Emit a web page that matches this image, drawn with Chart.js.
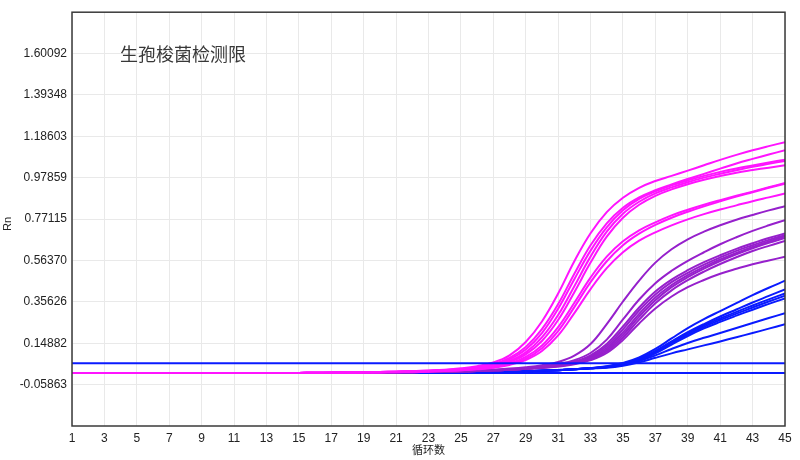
<!DOCTYPE html>
<html><head><meta charset="utf-8">
<script src="https://cdn.jsdelivr.net/npm/chart.js@4"></script>
<style>html,body{margin:0;padding:0;background:#fff}</style>
</head><body>
<canvas id="c" width="800" height="460" style="width:800px;height:460px;display:block"></canvas>
<script>
// ---------- data ----------
const cycles = [1,2,3,4,5,6,7,8,9,10,11,12,13,14,15,16,17,18,19,20,21,22,23,24,25,26,27,28,29,30,31,32,33,34,35,36,37,38,39,40,41,42,43,44,45];
const xTickValues = [1,3,5,7,9,11,13,15,17,19,21,23,25,27,29,31,33,35,37,39,41,43,45];
const yTickValues = [-0.05863,0.14882,0.35626,0.56370,0.77115,0.97859,1.18603,1.39348,1.60092];
const yTickLabels = ['-0.05863','0.14882','0.35626','0.56370','0.77115','0.97859','1.18603','1.39348','1.60092'];
const yMin = -0.26607, yMax = 1.80836;
const chartTitle = '生孢梭菌检测限';
const xTitle = '循环数';
const yTitle = 'Rn';

const threshold = [0.048,0.048,0.048,0.048,0.048,0.048,0.048,0.048,0.048,0.048,0.048,0.048,0.048,0.048,0.048,0.048,0.048,0.048,0.048,0.048,0.048,0.048,0.048,0.048,0.048,0.048,0.048,0.048,0.048,0.048,0.048,0.048,0.048,0.048,0.048,0.048,0.048,0.048,0.048,0.048,0.048,0.048,0.048,0.048,0.048];
const negative = [0,0,0,0,0,0,0,0,0,0,0,0,0,0,0,0,0,0,0,0,0,0,0,0,0,0,0,0,0,0,0,0,0,0,0,0,0,0,0,0,0,0,0,0,0];

// magenta group
const m1 = [0,0,0,0,0,0,0,0,0,0,0,0,0,0,0,0.001,0.002,0.003,0.004,0.005,0.007,0.009,0.012,0.016,0.023,0.034,0.052,0.088,0.155,0.258,0.398,0.56,0.7,0.806,0.878,0.928,0.962,0.988,1.014,1.041,1.068,1.093,1.116,1.137,1.157];
const m2 = [0,0,0,0,0,0,0,0,0,0,0,0,0,0,0,0.001,0.002,0.003,0.004,0.005,0.006,0.008,0.011,0.015,0.020,0.029,0.044,0.075,0.13,0.22,0.345,0.497,0.64,0.75,0.828,0.88,0.916,0.945,0.972,0.998,1.024,1.05,1.073,1.095,1.116];
const m3 = [0,0,0,0,0,0,0,0,0,0,0,0,0,0,0,0.001,0.002,0.003,0.004,0.005,0.006,0.008,0.01,0.014,0.019,0.027,0.041,0.068,0.117,0.2,0.322,0.47,0.613,0.73,0.815,0.872,0.91,0.94,0.965,0.988,1.008,1.025,1.04,1.055,1.069];
const m4 = [0,0,0,0,0,0,0,0,0,0,0,0,0,0,0,0.001,0.001,0.002,0.003,0.004,0.005,0.007,0.009,0.013,0.017,0.025,0.037,0.06,0.103,0.178,0.29,0.435,0.583,0.708,0.798,0.858,0.9,0.93,0.956,0.979,0.998,1.016,1.033,1.048,1.063];
const m5 = [0,0,0,0,0,0,0,0,0,0,0,0,0,0,0,0.001,0.001,0.002,0.003,0.004,0.005,0.007,0.009,0.012,0.016,0.023,0.034,0.055,0.093,0.16,0.265,0.405,0.553,0.683,0.778,0.843,0.888,0.92,0.946,0.968,0.987,1.004,1.017,1.029,1.041];
const m6 = [0,0,0,0,0,0,0,0,0,0,0,0,0,0,0,0.001,0.001,0.002,0.003,0.004,0.005,0.006,0.008,0.011,0.015,0.021,0.031,0.048,0.08,0.138,0.23,0.352,0.478,0.583,0.66,0.715,0.755,0.79,0.818,0.843,0.866,0.888,0.909,0.931,0.952];
const m7 = [0,0,0,0,0,0,0,0,0,0,0,0,0,0,0,0.001,0.001,0.002,0.003,0.004,0.005,0.006,0.008,0.011,0.014,0.02,0.029,0.044,0.072,0.124,0.21,0.33,0.455,0.56,0.64,0.698,0.742,0.778,0.808,0.835,0.86,0.884,0.906,0.928,0.949];
const m8 = [0,0,0,0,0,0,0,0,0,0,0,0,0,0,0,0.001,0.001,0.002,0.002,0.003,0.004,0.006,0.007,0.01,0.013,0.018,0.026,0.04,0.065,0.11,0.188,0.3,0.42,0.525,0.605,0.663,0.705,0.74,0.77,0.796,0.819,0.84,0.861,0.88,0.899];

// purple group
const p1 = [0,0,0,0,0,0,0,0,0,0,0,0,0,0,0,0,0,0.001,0.002,0.003,0.004,0.005,0.006,0.008,0.01,0.013,0.017,0.022,0.029,0.039,0.055,0.087,0.145,0.245,0.358,0.463,0.553,0.62,0.67,0.708,0.74,0.768,0.792,0.815,0.836];
const p2 = [0,0,0,0,0,0,0,0,0,0,0,0,0,0,0,0,0,0.001,0.002,0.003,0.004,0.005,0.006,0.007,0.009,0.011,0.014,0.018,0.024,0.033,0.045,0.064,0.1,0.167,0.268,0.368,0.45,0.512,0.562,0.605,0.645,0.68,0.712,0.74,0.766];
const p3 = [0,0,0,0,0,0,0,0,0,0,0,0,0,0,0,0,0,0.001,0.001,0.002,0.003,0.004,0.005,0.006,0.008,0.01,0.013,0.016,0.021,0.03,0.04,0.057,0.088,0.145,0.233,0.328,0.408,0.468,0.515,0.555,0.59,0.622,0.65,0.676,0.699];
const p4 = [0,0,0,0,0,0,0,0,0,0,0,0,0,0,0,0,0,0.001,0.001,0.002,0.003,0.004,0.005,0.006,0.008,0.01,0.013,0.016,0.021,0.029,0.038,0.054,0.082,0.135,0.218,0.313,0.393,0.455,0.502,0.543,0.579,0.612,0.64,0.667,0.691];
const p5 = [0,0,0,0,0,0,0,0,0,0,0,0,0,0,0,0,0,0.001,0.001,0.002,0.003,0.004,0.005,0.006,0.008,0.01,0.013,0.016,0.021,0.028,0.037,0.051,0.077,0.125,0.203,0.296,0.378,0.441,0.49,0.532,0.569,0.602,0.632,0.659,0.684];
const p6 = [0,0,0,0,0,0,0,0,0,0,0,0,0,0,0,0,0,0.001,0.001,0.002,0.003,0.004,0.005,0.006,0.008,0.01,0.013,0.016,0.021,0.027,0.035,0.048,0.072,0.116,0.19,0.282,0.364,0.43,0.48,0.523,0.561,0.595,0.625,0.652,0.676];
const p7 = [0,0,0,0,0,0,0,0,0,0,0,0,0,0,0,0,0,0.001,0.001,0.002,0.003,0.004,0.005,0.006,0.008,0.01,0.013,0.016,0.021,0.026,0.034,0.046,0.068,0.108,0.178,0.267,0.349,0.414,0.465,0.508,0.546,0.58,0.611,0.637,0.661];
const p8 = [0,0,0,0,0,0,0,0,0,0,0,0,0,0,0,0,0,0.001,0.001,0.002,0.003,0.004,0.005,0.006,0.008,0.01,0.013,0.016,0.021,0.025,0.032,0.043,0.064,0.1,0.165,0.248,0.323,0.383,0.43,0.466,0.497,0.522,0.545,0.564,0.582];

// blue group
const b1 = [0,0,0,0,0,0,0,0,0,0,0,0,0,0,0,0,0,0,0,0.001,0.001,0.002,0.002,0.003,0.004,0.005,0.006,0.008,0.01,0.012,0.015,0.019,0.025,0.034,0.05,0.078,0.12,0.173,0.225,0.27,0.31,0.35,0.39,0.427,0.462];
const b2 = [0,0,0,0,0,0,0,0,0,0,0,0,0,0,0,0,0,0,0,0.001,0.001,0.002,0.002,0.003,0.004,0.005,0.006,0.007,0.009,0.011,0.014,0.018,0.023,0.032,0.047,0.072,0.11,0.158,0.204,0.245,0.283,0.318,0.353,0.386,0.419];
const b3 = [0,0,0,0,0,0,0,0,0,0,0,0,0,0,0,0,0,0,0,0.001,0.001,0.002,0.002,0.003,0.004,0.005,0.006,0.007,0.009,0.011,0.014,0.018,0.023,0.031,0.045,0.07,0.108,0.155,0.199,0.238,0.273,0.306,0.338,0.369,0.399];
const b4 = [0,0,0,0,0,0,0,0,0,0,0,0,0,0,0,0,0,0,0,0.001,0.001,0.002,0.002,0.003,0.004,0.005,0.006,0.007,0.009,0.011,0.014,0.018,0.023,0.03,0.043,0.066,0.102,0.148,0.192,0.231,0.265,0.297,0.328,0.358,0.387];
const b5 = [0,0,0,0,0,0,0,0,0,0,0,0,0,0,0,0,0,0,0,0.001,0.001,0.002,0.002,0.003,0.004,0.005,0.006,0.007,0.009,0.011,0.014,0.018,0.023,0.029,0.041,0.063,0.098,0.142,0.185,0.223,0.256,0.287,0.317,0.346,0.374];
const b6 = [0,0,0,0,0,0,0,0,0,0,0,0,0,0,0,0,0,0,0,0.001,0.001,0.002,0.002,0.003,0.004,0.005,0.006,0.007,0.009,0.011,0.014,0.018,0.023,0.028,0.04,0.06,0.088,0.12,0.15,0.176,0.2,0.225,0.25,0.275,0.299];
const b7 = [0,0,0,0,0,0,0,0,0,0,0,0,0,0,0,0,0,0,0,0.001,0.001,0.002,0.002,0.003,0.004,0.005,0.006,0.007,0.009,0.011,0.014,0.018,0.023,0.026,0.036,0.053,0.076,0.098,0.118,0.138,0.158,0.179,0.2,0.222,0.244];

const magentaSeries = [m1,m2,m3,m4,m5,m6,m7,m8];
const purpleSeries = [p1,p2,p3,p4,p5,p6,p7,p8];
const blueSeries = [b1,b2,b3,b4,b5,b6,b7];

// ---------- build ----------
const MAGENTA = '#ff14ff', PURPLE = '#9620cc', BLUE = '#0a1aff';
function ds(arr, color, w) {
  return { data: arr.map((v,i)=>({x:cycles[i], y:v})), borderColor: color, borderWidth: w||2,
    pointRadius: 0, fill: false, tension: 0.4 };
}
const datasets = [];
datasets.push(ds(threshold, BLUE, 2));
magentaSeries.forEach(a=>datasets.push(ds(a, MAGENTA)));
purpleSeries.forEach(a=>datasets.push(ds(a, PURPLE)));
blueSeries.forEach(a=>datasets.push(ds(a, BLUE)));
datasets.push(ds(negative, BLUE, 2));

const framePlugin = {
  id: 'frame',
  afterDraw(chart) {
    const ctx = chart.ctx, a = chart.chartArea;
    ctx.save();
    ctx.strokeStyle = '#3a3a3a'; ctx.lineWidth = 1.5;
    ctx.strokeRect(a.left, a.top, a.right - a.left, a.bottom - a.top);
    ctx.fillStyle = '#383838';
    ctx.font = '18px "Noto Sans CJK SC"';
    ctx.textBaseline = 'middle'; ctx.textAlign = 'left';
    ctx.fillText(chartTitle, 120, 54);
    ctx.fillStyle = '#222';
    ctx.font = '11px "Noto Sans CJK SC"';
    ctx.textAlign = 'center';
    ctx.fillText(xTitle, (a.left + a.right) / 2, 450);
    ctx.translate(8, 224); ctx.rotate(-Math.PI/2);
    ctx.font = '11px "Liberation Sans", Arial';
    ctx.fillText(yTitle, 0, 0);
    ctx.restore();
  }
};

new Chart(document.getElementById('c'), {
  type: 'line',
  data: { datasets },
  options: {
    responsive: false, animation: false, devicePixelRatio: 1,
    layout: { padding: { top: 12, right: 15, left: 0, bottom: 0 } },
    plugins: { legend: { display: false }, tooltip: { enabled: false } },
    scales: {
      x: {
        type: 'linear', min: 1, max: 45,
        afterBuildTicks: s => { s.ticks = xTickValues.map(v => ({ value: v })); },
        afterFit: s => { s.height = 34; },
        ticks: { autoSkip: false, maxRotation: 0, padding: 5, color: '#222',
          font: { family: '"Liberation Sans", Arial', size: 12 }, callback: v => String(v) },
        grid: { color: '#e9e9e9', drawTicks: false },
        border: { display: false }
      },
      y: {
        min: yMin, max: yMax,
        afterBuildTicks: s => { s.ticks = yTickValues.map(v => ({ value: v })); },
        afterFit: s => { s.width = 72; },
        ticks: { padding: 5, color: '#222', font: { family: '"Liberation Sans", Arial', size: 12 },
          callback: (v, i) => yTickLabels[i] },
        grid: { color: '#e9e9e9', drawTicks: false },
        border: { display: false }
      }
    }
  },
  plugins: [framePlugin]
});
</script>
</body></html>
